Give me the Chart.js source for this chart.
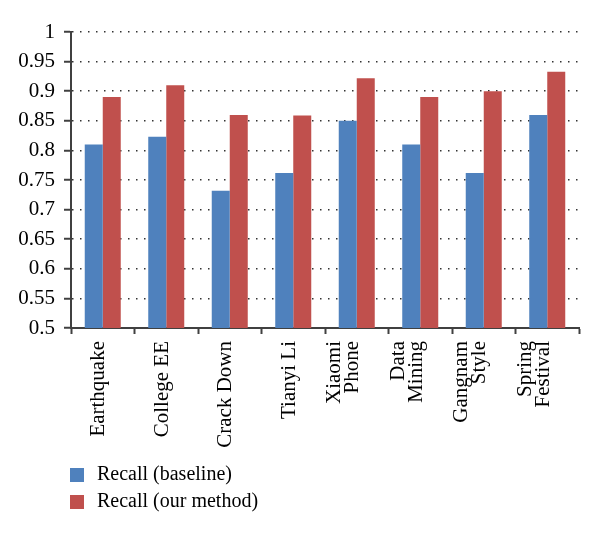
<!DOCTYPE html>
<html>
<head>
<meta charset="utf-8">
<script src="https://cdn.jsdelivr.net/npm/chart.js@4.4.1/dist/chart.umd.min.js"></script>
<style>
  body { margin: 0; background: #fff; }
  #wrap { width: 600px; height: 535px; }
</style>
</head>
<body>
<div id="wrap"><canvas id="myChart" width="600" height="535"></canvas></div>
<script>
var topics = [
    "Earthquake", "College EE", "Crack Down", "Tianyi Li",
    ["Xiaomi", "Phone"], ["Data", "Mining"], ["Gangnam", "Style"], ["Spring", "Festival"]
];
var recallBaseline = [0.81, 0.823, 0.732, 0.762, 0.85, 0.81, 0.762, 0.86];
var recallOurs = [0.89, 0.91, 0.86, 0.859, 0.922, 0.89, 0.9, 0.933];
var seriesNames = ["Recall (baseline)", "Recall (our method)"];

var serif = "'Liberation Serif', 'DejaVu Serif', serif";

// x labels drawn by hand: rotated, tight line spacing, last line sits on the tick
var rotatedLabels = {
    id: "rotatedLabels",
    afterDraw: function(chart) {
        var ctx = chart.ctx;
        var xs = chart.scales.x;
        ctx.save();
        ctx.font = "21px " + serif;
        ctx.fillStyle = "#000";
        ctx.textAlign = "right";
        ctx.textBaseline = "middle";
        chart.data.labels.forEach(function(lab, i) {
            var lines = [].concat(lab);
            var px = xs.getPixelForTick(i) - 4;
            for (var j = 0; j < lines.length; j++) {
                var lx = px - (lines.length - 1 - j) * 18;
                ctx.save();
                ctx.translate(lx, xs.top + 13);
                ctx.rotate(-Math.PI / 2);
                ctx.fillText(lines[j], 0, 0);
                ctx.restore();
            }
        });
        ctx.restore();
    }
};

// legend stacked in a column under the axis
var columnLegend = {
    id: "columnLegend",
    afterDraw: function(chart) {
        var ctx = chart.ctx;
        ctx.save();
        ctx.font = "20px " + serif;
        ctx.textBaseline = "middle";
        chart.data.datasets.forEach(function(ds, i) {
            var y = 475 + i * 27;
            ctx.fillStyle = ds.backgroundColor;
            ctx.fillRect(70, y - 7, 14, 14);
            ctx.fillStyle = "#000";
            ctx.fillText(ds.label, 97, y);
        });
        ctx.restore();
    }
};

var ctx = document.getElementById("myChart").getContext("2d");
var myChart = new Chart(ctx, {
    type: "bar",
    data: {
        labels: topics,
        datasets: [{
            label: seriesNames[0],
            data: recallBaseline,
            backgroundColor: "#4F81BD"
        }, {
            label: seriesNames[1],
            data: recallOurs,
            backgroundColor: "#C0504D"
        }]
    },
    options: {
        responsive: false,
        animation: false,
        layout: { padding: { top: 32, left: 0, right: 21, bottom: 77 } },
        datasets: { bar: { categoryPercentage: 0.567, barPercentage: 1.0 } },
        plugins: {
            legend: { display: false },
            tooltip: { enabled: false }
        },
        scales: {
            x: {
                grid: {
                    offset: true,
                    drawOnChartArea: false,
                    tickLength: 6,
                    tickColor: "#404040",
                    tickWidth: 2
                },
                border: { color: "#404040", width: 2 },
                ticks: { display: false },
                afterFit: function(scale) { scale.height = 130; }
            },
            y: {
                min: 0.5,
                max: 1,
                grid: {
                    color: "#333",
                    lineWidth: 1.5,
                    tickLength: 7,
                    tickColor: "#404040",
                    tickWidth: 2
                },
                border: { color: "#404040", width: 2, dash: [1.5, 6.5] },
                ticks: {
                    stepSize: 0.05,
                    padding: 9,
                    color: "#000",
                    font: { family: serif, size: 21 },
                    callback: function(v) { return +v.toFixed(2); }
                },
                afterFit: function(scale) { scale.width = 71; }
            }
        }
    },
    plugins: [rotatedLabels, columnLegend]
});
</script>
</body>
</html>
